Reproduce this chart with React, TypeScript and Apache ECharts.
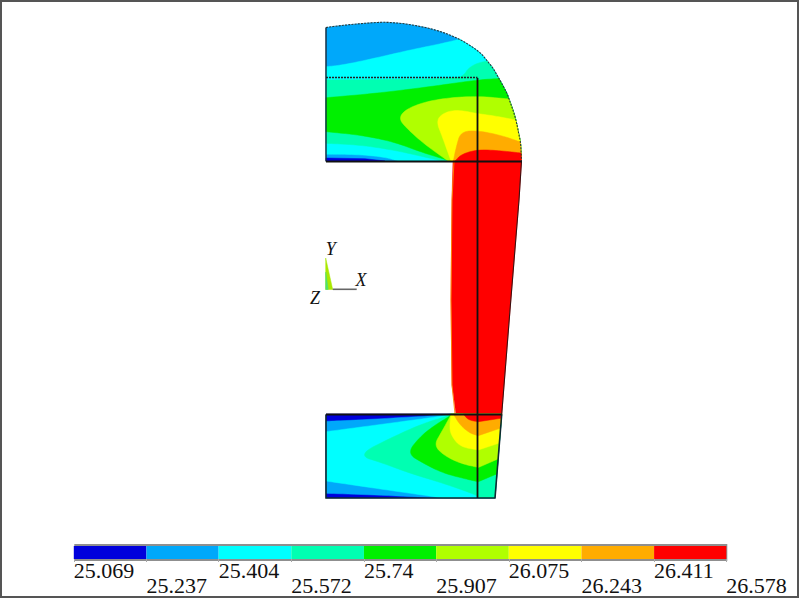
import React, { useEffect, useRef } from "react";
import * as echarts from "echarts";

type P = [number, number];

// colour-bar levels and contour band colours
const LEVELS = [25.069, 25.237, 25.404, 25.572, 25.74, 25.907, 26.075, 26.243, 26.411, 26.578];
const TICK_LABELS = ["25.069", "25.237", "25.404", "25.572", "25.74", "25.907", "26.075", "26.243", "26.411", "26.578"];
const BAND_COLORS = ["#0000dc", "#00a8fa", "#00ffff", "#00ffb2", "#00f000", "#b0ff00", "#ffff00", "#ffac00", "#ff0000"];

// rounds a hand-read contour curve (corner cutting), keeps its two ends
const sm = (curve: P[], rounds = 3): P[] => {
  let out = curve;
  for (let r = 0; r < rounds; r++) {
    const next: P[] = [out[0]];
    for (let i = 0; i < out.length - 1; i++) {
      const [a, b] = [out[i], out[i + 1]];
      next.push([a[0] * 0.75 + b[0] * 0.25, a[1] * 0.75 + b[1] * 0.25]);
      next.push([a[0] * 0.25 + b[0] * 0.75, a[1] * 0.25 + b[1] * 0.75]);
    }
    next.push(out[out.length - 1]);
    out = next;
  }
  return out;
};

// outer boundary of the upper part (the curved shoulder)
const ARC_RAW: P[] = [[326, 27.5], [345, 25], [377, 22.3], [390, 22.3], [410, 24.3], [437, 30], [460, 39], [480, 52], [487.3, 61], [493, 68], [499, 78.5], [507, 93], [509, 99], [513, 110], [516, 120], [519, 135], [520.5, 142], [521, 150], [521.5, 161]];
const ARC = sm(ARC_RAW, 2);
const arcFrom = (y: number): P[] => ARC.filter((p) => p[1] > y);

// upper part: contour curves, left to right
const UP_C2: P[] = [[326, 66.7], [343, 65], [377, 57.7], [410, 50], [443, 43.3], [460, 39]];
const UP_C2_LOW: P[] = [[398, 161], [383, 156.7], [353, 154.3], [326, 154.3]];
const UP_C3: P[] = [[326, 80], [410, 79.3], [456.7, 78.3], [464, 75], [468.3, 68.3], [476.7, 63.3], [487.3, 61]];
const UP_C3_LOW: P[] = [[441.7, 161], [423.3, 156.7], [393.3, 150], [360, 145], [326, 143.3]];
const UP_C4: P[] = [[326, 97.7], [376.7, 93.3], [430, 86.7], [476.7, 80], [499, 78.5]];
const UP_C4_LOW: P[] = [[446.7, 160], [420, 151.7], [393.3, 141.7], [360, 135], [326, 131.7]];
const UP_C5: P[] = [[448, 161], [423.3, 143.3], [406.7, 128.3], [399, 119], [404, 110.7], [420, 103.3], [443.3, 98.3], [476.7, 96], [509, 99]];
const UP_C6: P[] = [[451, 161], [441.7, 135], [437, 123.3], [439.5, 115.7], [450, 110.7], [462, 110.5], [476.7, 113.5], [495, 116], [516, 120]];
const UP_C7: P[] = [[453.3, 161], [456.7, 145], [460.7, 132.3], [475, 130.2], [500, 135], [520.5, 142]];
const UP_C8: P[] = [[455, 161], [461.7, 154], [478.3, 149.5], [500, 150.7], [521, 153]];
const UP_C0: P[] = [[326, 158], [365, 158.7], [385, 161], [326, 161]];

// middle column
const COLUMN: P[] = [[453, 161], [521.5, 161], [519, 200], [510, 310], [501.7, 414.5], [456, 414.5], [452, 385], [451, 300], [452, 200]];
const COLUMN_FRINGE: P[] = [[454, 161], [452, 200], [451, 300], [452, 385], [455, 414]];

// lower part: outline corners and contour curves
const LOW_OUTLINE: P[] = [[326, 414], [501.7, 414], [495, 498], [326, 498]];
const LOW_RIGHT_TOP: P = [501.7, 414];
const LOW_RIGHT_BOTTOM: P = [495, 498];
const LOW_C1_UP: P[] = [[326, 421.3], [360, 420], [443.3, 415], [450, 414]];
const LOW_C1_DOWN: P[] = [[438.3, 498], [376.7, 495], [326, 493.3]];
const LOW_C2_UP: P[] = [[326, 431.7], [376.7, 425], [443.3, 416], [450, 414]];
const LOW_C2_DOWN: P[] = [[443.3, 498], [410, 493.3], [360, 486], [326, 481]];
const LOW_C3_CURVE: P[] = [[478.3, 498], [476.7, 495], [443.3, 483.3], [410, 473.3], [383.3, 463.3], [357, 455], [393.3, 436.7], [423.3, 423.3], [448.3, 416], [450, 414]];
const LOW_C4_CURVE: P[] = [[478.3, 481.7], [470, 480], [443.3, 473.3], [423.3, 463.3], [407, 453.3], [420, 436.7], [435, 425], [450, 416], [451, 414]];
const LOW_C4_EDGE: P = [496.7, 474];
const LOW_C5_CURVE: P[] = [[478.3, 467.5], [460, 463.3], [443.3, 455], [434, 445], [441.7, 431.7], [450, 416.7], [451, 414]];
const LOW_C5_EDGE: P = [497.9, 459];
const LOW_C6_CURVE: P[] = [[478.3, 450], [460, 446.7], [451.7, 436], [449.5, 428], [451, 414]];
const LOW_C6_EDGE: P = [498.5, 443.3];
const LOW_C7_CURVE: P[] = [[478.3, 435.7], [470, 433.3], [460, 425], [453.3, 414]];
const LOW_C7_EDGE: P = [500, 428.3];
const LOW_C8_CURVE: P[] = [[478.3, 421.7], [468.3, 420], [463.3, 414]];
const LOW_C8_EDGE: P = [500.7, 418.3];

// thin lines of the model
const MESH_V: P[] = [[477.5, 78], [477.5, 498]];
const MESH_TOP: P[] = [[326, 77.5], [477.5, 77.5]];
const MESH_MID: P[] = [[326, 161.5], [521.5, 161.5]];
const MESH_LOW: P[] = [[326, 414.5], [501.7, 414.5]];
const EDGE_LEFT_UP: P[] = [[326, 27.5], [326, 161.5]];
const EDGE_LOW: P[] = [[326, 414.5], [326, 498], [495, 498], [501.7, 414.5]];
const EDGE_RIGHT: P[] = [[521.5, 161], [519, 200], [510, 310], [501.7, 414.5]];

// global triad
const TRIAD_WEDGE: P[] = [[325.7, 258], [325.7, 289.5], [332.7, 289.5]];
const TRIAD_CYAN: P[] = [[325.7, 272], [325.7, 289.5], [328.2, 289.5]];
const TRIAD_X: P[] = [[332.7, 289.3], [356.7, 289.3]];

type Shape = { pts: P[]; fill?: string; stroke?: string; w?: number; dash?: number[] };
const c = BAND_COLORS;
const SHAPES: Shape[] = [
  { pts: [[326, 161], ...ARC], fill: c[1] },
  { pts: [...sm(UP_C2), ...arcFrom(39), ...sm(UP_C2_LOW)], fill: c[2] },
  { pts: [...sm(UP_C3, 2), ...arcFrom(61), ...sm(UP_C3_LOW)], fill: c[3] },
  { pts: [...sm(UP_C4), ...arcFrom(78.5), ...sm(UP_C4_LOW)], fill: c[4] },
  { pts: [...sm(UP_C5), ...arcFrom(99)], fill: c[5] },
  { pts: [...sm(UP_C6), ...arcFrom(120)], fill: c[6] },
  { pts: [...sm(UP_C7), ...arcFrom(142)], fill: c[7] },
  { pts: [...sm(UP_C8), ...arcFrom(153)], fill: c[8] },
  { pts: UP_C0, fill: c[0] },
  { pts: COLUMN, fill: c[8] },
  { pts: LOW_OUTLINE, fill: c[0] },
  { pts: [...sm(LOW_C1_UP), LOW_RIGHT_TOP, LOW_RIGHT_BOTTOM, ...sm(LOW_C1_DOWN)], fill: c[1] },
  { pts: [...sm(LOW_C2_UP), LOW_RIGHT_TOP, LOW_RIGHT_BOTTOM, ...sm(LOW_C2_DOWN)], fill: c[2] },
  { pts: [...sm(LOW_C3_CURVE), LOW_RIGHT_TOP, LOW_RIGHT_BOTTOM], fill: c[3] },
  { pts: [LOW_C4_EDGE, ...sm(LOW_C4_CURVE), LOW_RIGHT_TOP], fill: c[4] },
  { pts: [LOW_C5_EDGE, ...sm(LOW_C5_CURVE), LOW_RIGHT_TOP], fill: c[5] },
  { pts: [LOW_C6_EDGE, ...sm(LOW_C6_CURVE), LOW_RIGHT_TOP], fill: c[6] },
  { pts: [LOW_C7_EDGE, ...sm(LOW_C7_CURVE), LOW_RIGHT_TOP], fill: c[7] },
  { pts: [LOW_C8_EDGE, ...sm(LOW_C8_CURVE), LOW_RIGHT_TOP], fill: c[8] },
  { pts: COLUMN_FRINGE, stroke: "#ff8800", w: 0.9 },
  { pts: ARC, stroke: "#2a3a3a", w: 1.1, dash: [2, 1.2] },
  { pts: EDGE_LEFT_UP, stroke: "#1a2a3a", w: 1.4 },
  { pts: EDGE_RIGHT, stroke: "#3a1010", w: 1.1 },
  { pts: EDGE_LOW, stroke: "#102a30", w: 1.6 },
  { pts: MESH_TOP, stroke: "#222", w: 1.3, dash: [2, 1] },
  { pts: MESH_MID, stroke: "#111", w: 1.9 },
  { pts: MESH_LOW, stroke: "#111", w: 1.9 },
  { pts: MESH_V, stroke: "#111", w: 1.8 },
  { pts: TRIAD_WEDGE, fill: "#a9e800" },
  { pts: TRIAD_CYAN, fill: "#50e070" },
  { pts: TRIAD_X, stroke: "#666", w: 1.6 },
];

const serif = "Liberation Serif";

export default function App() {
  const ref = useRef<HTMLDivElement>(null);
  useEffect(() => {
    const chart = echarts.init(ref.current!, undefined, { renderer: "svg" });
    const rowValues = (odd: number) => LEVELS.filter((_, i) => i % 2 === odd);
    const bandAxis = (odd: number, margin: number) => ({
      type: "value",
      gridIndex: 1,
      position: "bottom",
      min: LEVELS[0],
      max: LEVELS[LEVELS.length - 1],
      splitLine: { show: false },
      axisLine: { show: false },
      axisTick: { show: true, customValues: rowValues(odd), length: 3, lineStyle: { color: "#a8a8a8", width: 1 } },
      axisLabel: {
        show: true,
        customValues: rowValues(odd),
        align: "left",
        margin,
        fontFamily: serif,
        fontSize: 22,
        color: "#111",
        formatter: (v: number) => TICK_LABELS[LEVELS.indexOf(v)],
      },
    });
    chart.setOption({
      animation: false,
      backgroundColor: "#ffffff",
      grid: [
        { left: 0, top: 0, width: 800, height: 600, show: false },
        { left: 73.8, top: 546, width: 652.5, height: 13, show: false },
      ],
      xAxis: [
        { type: "value", gridIndex: 0, min: 0, max: 800, show: false },
        bandAxis(0, 0),
        bandAxis(1, 15),
      ],
      yAxis: [
        { type: "value", gridIndex: 0, min: 0, max: 600, inverse: true, show: false },
        { type: "value", gridIndex: 1, min: 0, max: 1, show: false },
      ],
      series: [
        {
          type: "custom",
          xAxisIndex: 0,
          yAxisIndex: 0,
          silent: true,
          clip: false,
          data: SHAPES.map((_, i) => [i]),
          renderItem: (params: any, api: any) => {
            const s = SHAPES[params.dataIndex];
            const points = s.pts.map((p) => api.coord(p));
            return s.fill
              ? { type: "polygon", shape: { points }, style: { fill: s.fill, stroke: s.fill, lineWidth: 0.5 } }
              : { type: "polyline", shape: { points }, style: { fill: "none", stroke: s.stroke, lineWidth: s.w, lineDash: s.dash } };
          },
        },
        {
          type: "custom",
          xAxisIndex: 1,
          yAxisIndex: 1,
          silent: true,
          clip: false,
          data: BAND_COLORS.map((_, i) => [LEVELS[i], LEVELS[i + 1]]),
          renderItem: (params: any, api: any) => {
            const a = api.coord([api.value(0), 1]);
            const b = api.coord([api.value(1), 0]);
            return {
              type: "rect",
              shape: { x: a[0], y: a[1], width: b[0] - a[0], height: b[1] - a[1] },
              style: { fill: BAND_COLORS[params.dataIndex] },
            };
          },
        },
      ],
      graphic: [
        { type: "rect", shape: { x: 1, y: 1, width: 797, height: 596 }, style: { fill: "none", stroke: "#555", lineWidth: 2 }, silent: true },
        { type: "rect", shape: { x: 75.3, y: 545, width: 651, height: 15 }, style: { fill: "none", stroke: "#8f8f8f", lineWidth: 2 }, silent: true },
        { type: "text", x: 330.7, y: 249, style: { text: "Y", font: `italic 18px "${serif}"`, fill: "#111", textAlign: "center", textVerticalAlign: "middle" } },
        { type: "text", x: 361, y: 279.5, style: { text: "X", font: `italic 18px "${serif}"`, fill: "#111", textAlign: "center", textVerticalAlign: "middle" } },
        { type: "text", x: 315, y: 297.5, style: { text: "Z", font: `italic 18px "${serif}"`, fill: "#111", textAlign: "center", textVerticalAlign: "middle" } },
        { type: "text", x: 477.5, y: 264.5, style: { text: "MX", font: `bold 9px "Liberation Sans"`, fill: "#ffb4b4", textAlign: "center", textVerticalAlign: "middle" } },
        { type: "text", x: 333.5, y: 490, style: { text: "MN", font: `bold 9px "Liberation Sans"`, fill: "#dff4ff", textAlign: "center", textVerticalAlign: "middle" } },
      ],
    });
    return () => chart.dispose();
  }, []);
  return <div ref={ref} style={{ position: "absolute", left: 0, top: 0, width: 800, height: 600 }} />;
}
